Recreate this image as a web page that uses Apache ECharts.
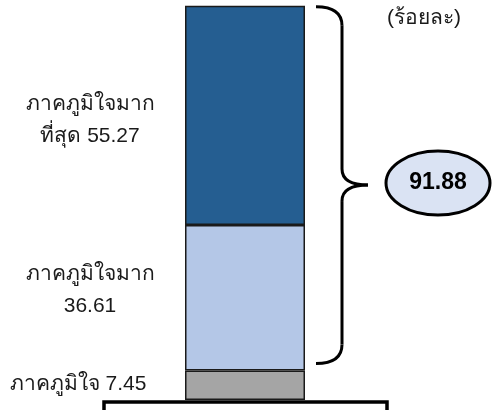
<!DOCTYPE html>
<html>
<head>
<meta charset="utf-8">
<script src="https://cdn.jsdelivr.net/npm/echarts@6/dist/echarts.min.js"></script>
<style>
  html, body { margin: 0; padding: 0; background: #fff; }
  #chart { width: 496px; height: 410px; }
</style>
</head>
<body>
<div id="chart"></div>
<script>
// Pride levels, share of respondents (percent)
const categories = ['ความภาคภูมิใจ'];
const segmentNames = ['ภาคภูมิใจ', 'ภาคภูมิใจมาก', 'ภาคภูมิใจมากที่สุด'];
const proudValues = [7.45];
const veryProudValues = [36.61];
const mostProudValues = [55.27];
const combinedTotal = '91.88';
const unitText = '(ร้อยละ)';

const FONT = '"Liberation Sans", "Noto Sans", sans-serif';
const chart = echarts.init(document.getElementById('chart'));

function segLabel(xOff, yOff, fmt) {
  return {
    show: true,
    position: [xOff, '50%'],
    offset: [0, yOff],
    align: 'center',
    verticalAlign: 'middle',
    fontFamily: FONT,
    fontSize: 21,
    lineHeight: 32,
    color: '#1a1a1a',
    formatter: fmt
  };
}

const barBase = { type: 'bar', stack: 'all', barWidth: 120, animation: false };

chart.setOption({
  animation: false,
  grid: { left: 185, width: 120, top: 3, bottom: 10 },
  xAxis: { type: 'category', data: categories, show: false },
  yAxis: { type: 'value', min: 0, max: 100, show: false },
  series: [
    Object.assign({}, barBase, {
      name: segmentNames[0], data: proudValues,
      itemStyle: { color: '#a5a5a5', borderColor: '#1a1a1a', borderWidth: 1.5 },
      label: segLabel(-107, -1, p => 'ภาคภูมิใจ ' + p.value.toFixed(2))
    }),
    Object.assign({}, barBase, {
      name: segmentNames[1], data: veryProudValues,
      itemStyle: { color: '#b4c7e7', borderColor: '#1a1a1a', borderWidth: 1.5 },
      label: segLabel(-95, -8, p => 'ภาคภูมิใจมาก\n' + p.value.toFixed(2))
    }),
    Object.assign({}, barBase, {
      name: segmentNames[2], data: mostProudValues,
      itemStyle: { color: '#255e91', borderColor: '#1a1a1a', borderWidth: 1.5 },
      label: segLabel(-95, 5, p => 'ภาคภูมิใจมาก\nที่สุด ' + p.value.toFixed(2))
    })
  ]
});

// Brace spanning the two upper segments, plus the combined-share bubble
const stackTop = proudValues[0] + veryProudValues[0] + mostProudValues[0];
const yT = chart.convertToPixel({ yAxisIndex: 0 }, stackTop) + 1;
const yB = chart.convertToPixel({ yAxisIndex: 0 }, proudValues[0]) - 7;
const yM = (yT + yB) / 2;
const yBase = chart.convertToPixel({ yAxisIndex: 0 }, 0);
const x0 = 316, x1 = 342, xp = 368;
const braceStyle = { fill: 'none', stroke: '#000', lineWidth: 3 };
const curve = (a, b, c, d, cx, cy) => ({
  type: 'bezierCurve',
  shape: { x1: a, y1: b, x2: c, y2: d, cpx1: cx, cpy1: cy },
  style: braceStyle
});
const seg = (a, b, c, d) => ({
  type: 'line', shape: { x1: a, y1: b, x2: c, y2: d }, style: braceStyle
});

chart.setOption({
  graphic: [
    curve(x0, yT, x1, yT + 19, x1, yT),
    seg(x1, yT + 19, x1, yM - 16),
    curve(x1, yM - 16, xp, yM, x1, yM),
    curve(xp, yM, x1, yM + 16, x1, yM),
    seg(x1, yM + 16, x1, yB - 19),
    curve(x1, yB - 19, x0, yB, x1, yB),
    { type: 'ellipse', shape: { cx: 438, cy: yM - 2, rx: 52, ry: 32 },
      style: { fill: '#dae3f3', stroke: '#000', lineWidth: 3 } },
    { type: 'text', x: 438, y: yM - 2,
      style: { text: combinedTotal, fontFamily: '"Liberation Sans", Arial, sans-serif', fontWeight: 'bold',
               fontSize: 23, fill: '#000', align: 'center', verticalAlign: 'middle' } },
    { type: 'text', x: 424, y: 18,
      style: { text: unitText, fontFamily: FONT, fontSize: 21, fill: '#1a1a1a',
               align: 'center', verticalAlign: 'middle' } },
    { type: 'rect', shape: { x: 104, y: yBase + 2, width: 283, height: 30 },
      style: { fill: '#fff', stroke: '#000', lineWidth: 3.5 } }
  ]
});
</script>
</body>
</html>
